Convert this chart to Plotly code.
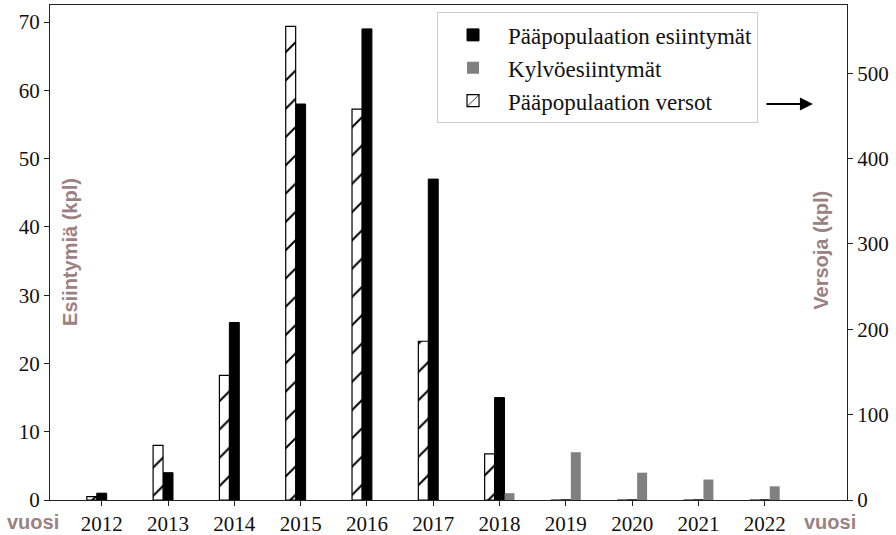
import plotly.graph_objects as go

years = [2012, 2013, 2014, 2015, 2016, 2017, 2018, 2019, 2020, 2021, 2022]
year_labels = [str(y) for y in years]
esiintymat = [1, 4, 26, 58, 69, 47, 15, 0, 0, 0, 0]          # left axis
kylvo = [0, 0, 0, 0, 0, 0, 1, 7, 4, 3, 2]                      # left axis
versot = [4, 64, 146, 555, 458, 186, 54, 0, 0, 0, 0]           # right axis
left_ticks = [0, 10, 20, 30, 40, 50, 60, 70]
right_ticks = [0, 100, 200, 300, 400, 500]

serif = "Liberation Serif"
sans = "Liberation Sans"
title_col = "#9b8282"
W = 0.15

fig = go.Figure()
fig.add_trace(go.Bar(
    x=years, y=esiintymat, name="Pääpopulaation esiintymät",
    width=W, offset=-W / 2, marker=dict(color="black", line=dict(color="black", width=1)),
    legendgroup="a", yaxis="y"))
fig.add_trace(go.Bar(
    x=years, y=kylvo, name="Kylvöesiintymät",
    width=W, offset=W / 2, marker=dict(color="#808080", line=dict(width=0)),
    legendgroup="b", yaxis="y"))
fig.add_trace(go.Bar(
    x=years, y=versot, name="Pääpopulaation versot",
    width=W, offset=-1.5 * W,
    marker=dict(color="white", line=dict(color="black", width=1.2),
                pattern=dict(shape="/", fgcolor="black", bgcolor="white", size=20,
                             solidity=0.1, fgopacity=1)),
    legendgroup="c", yaxis="y2"))

axis_line = dict(showline=True, linecolor="#222", linewidth=1.3, ticks="outside",
                 ticklen=5, tickcolor="#222", showgrid=False, zeroline=False,
                 automargin=False, tickfont=dict(family=serif, size=21, color="#111"))

fig.update_layout(
    width=896, height=535,
    margin=dict(l=50, r=49, t=5, b=35),
    paper_bgcolor="white", plot_bgcolor="white",
    barmode="overlay",
    font=dict(family=serif, size=20, color="#111"),
    xaxis=dict(range=[2011.22, 2023.24], tickvals=years, ticktext=year_labels,
               mirror=True, **axis_line),
    yaxis=dict(range=[0, 72.5], tickvals=left_ticks, **axis_line),
    yaxis2=dict(range=[0, 580], tickvals=right_ticks, overlaying="y", side="right",
                **axis_line),
    legend=dict(x=0.4856, y=0.985, xanchor="left", yanchor="top",
                bordercolor="#cccccc", borderwidth=1, bgcolor="white",
                font=dict(family=serif, size=23, color="#111"),
                itemwidth=60, tracegroupgap=6, traceorder="normal"),
    showlegend=True,
    annotations=[
        dict(text="Esiintymiä (kpl)", x=0.025, y=0.501, xref="paper", yref="paper",
             textangle=-90, showarrow=False, xanchor="center", yanchor="middle",
             font=dict(family=sans, size=20, color=title_col, weight="bold")),
        dict(text="Versoja (kpl)", x=0.967, y=0.505, xref="paper", yref="paper",
             textangle=-90, showarrow=False, xanchor="center", yanchor="middle",
             font=dict(family=sans, size=20, color=title_col, weight="bold")),
        dict(text="vuosi", x=-0.0213, y=-0.0444, xref="paper", yref="paper",
             showarrow=False, xanchor="center", yanchor="middle",
             font=dict(family=sans, size=20, color=title_col, weight="bold")),
        dict(text="vuosi", x=0.9787, y=-0.0444, xref="paper", yref="paper",
             showarrow=False, xanchor="center", yanchor="middle",
             font=dict(family=sans, size=20, color=title_col, weight="bold")),
        dict(text="", x=0.9573, y=0.8, xref="paper", yref="paper",
             ax=-48, ay=0, showarrow=True, arrowhead=2, arrowsize=1.3,
             arrowwidth=2, arrowcolor="black", standoff=0),
    ],
)

fig.write_html("out.html", config={"displayModeBar": False},
               post_script="document.body.style.margin='0';window.dispatchEvent(new Event('resize'));")
